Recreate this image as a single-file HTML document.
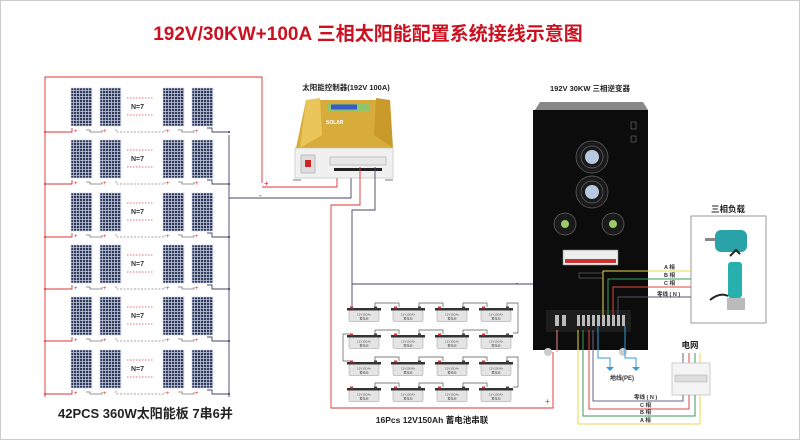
<!DOCTYPE html>
<html><head><meta charset="utf-8"><style>
html,body{margin:0;padding:0;background:#fff}
svg{display:block}
text{font-family:"Liberation Sans","Noto Sans CJK SC",sans-serif}
</style></head><body>
<svg width="800" height="442" viewBox="0 0 800 442" xmlns="http://www.w3.org/2000/svg">
<defs>
<pattern id="cell" width="3" height="3" patternUnits="userSpaceOnUse">
<rect width="3" height="3" fill="#cfd5e6"/><rect width="2.3" height="2.3" fill="#2f3a5c"/>
</pattern>
<g id="panel"><rect width="21" height="38" fill="url(#cell)" stroke="#cfd5e6" stroke-width="0.6"/></g>
<g id="row">
<use href="#panel" x="71"/><use href="#panel" x="100"/><use href="#panel" x="163"/><use href="#panel" x="192"/>
<line x1="127" y1="10" x2="154" y2="10" stroke="#d44" stroke-width="0.8" stroke-dasharray="1.5,1.5"/>
<line x1="127" y1="27" x2="154" y2="27" stroke="#d44" stroke-width="0.8" stroke-dasharray="1.5,1.5"/>
<text x="131" y="21" font-size="7" font-weight="bold" fill="#333">N=7</text>
<text x="74" y="45" font-size="6" fill="#d22">+</text>
<text x="103" y="45" font-size="6" fill="#d22">+</text>
<text x="166" y="45" font-size="6" fill="#d22">+</text>
<text x="195" y="45" font-size="6" fill="#d22">+</text>
<path d="M86 42h4v2h12v-2" stroke="#777" fill="none" stroke-width="0.8"/>
<path d="M115 42h2v2h48v-2" stroke="#888" fill="none" stroke-width="0.8" stroke-dasharray="2,1.5"/>
<path d="M178 42h4v2h12v-2" stroke="#777" fill="none" stroke-width="0.8"/>
<path d="M45 44h27v-4" stroke="#d33" fill="none" stroke-width="0.9"/>
<path d="M207 40h5v4h17" stroke="#446" fill="none" stroke-width="0.9"/>
<circle cx="45" cy="44" r="1" fill="#d33"/><circle cx="229" cy="44" r="1" fill="#335"/>
</g>
<g id="bat">
<rect x="0" y="0" width="34" height="2.5" fill="#333"/>
<rect x="2" y="2.5" width="30" height="11" fill="#e4e4e4" stroke="#999" stroke-width="0.5" rx="1"/>
<rect x="3" y="-1.5" width="3" height="2" fill="#c33"/><rect x="27" y="-1.5" width="3" height="2" fill="#444"/>
<text x="17" y="7.5" font-size="3" text-anchor="middle" fill="#555">12V150Ah</text>
<text x="17" y="11.5" font-size="3" text-anchor="middle" fill="#555">蓄电池</text>
</g>
</defs>
<rect x="0.5" y="0.5" width="799" height="439" fill="#fff" stroke="#ccc"/>
<text x="368" y="40" font-size="19" font-weight="bold" fill="#cc1020" text-anchor="middle">192V/30KW+100A 三相太阳能配置系统接线示意图</text>

<path d="M45 397V77H262V183" stroke="#d33" fill="none" stroke-width="0.9"/>
<path d="M229 135V397" stroke="#446" fill="none" stroke-width="0.9"/>
<use href="#row" y="88"/><use href="#row" y="140"/><use href="#row" y="193"/>
<use href="#row" y="245"/><use href="#row" y="297"/><use href="#row" y="350"/>
<text x="264" y="186" font-size="8" fill="#d22">+</text>
<text x="259" y="198" font-size="8" fill="#446">-</text>
<path d="M262 187H337V167" stroke="#d33" fill="none" stroke-width="0.9"/>
<path d="M229 198H351V167" stroke="#446" fill="none" stroke-width="0.9"/>
<text x="58" y="418" font-size="13" font-weight="bold" fill="#222">42PCS  360W太阳能板 7串6并</text>

<text x="346" y="90" font-size="7.5" font-weight="bold" fill="#222" text-anchor="middle">太阳能控制器(192V 100A)</text>
<path d="M296 148 L306 100 L390 100 L392 148 Z" fill="#d8ac3a"/>
<path d="M306 100 L320 98 L322 135 L300 148Z" fill="#e9c55a"/>
<path d="M390 100 L376 98 L374 135 L393 148Z" fill="#c99a2a"/>
<rect x="328" y="103" width="42" height="8" fill="#8fc46a"/><rect x="331" y="104.5" width="26" height="5" fill="#3a58c8"/>
<text x="326" y="124" font-size="5" font-weight="bold" fill="#fff">SOLAR</text>
<rect x="295" y="148" width="98" height="30" fill="#f0f0f0" stroke="#bbb" stroke-width="0.6"/>
<rect x="301" y="155" width="14" height="18" fill="#ddd" stroke="#999" stroke-width="0.5"/><rect x="305" y="160" width="6" height="7" fill="#c22"/>
<rect x="330" y="157" width="56" height="8" fill="#e8e8e8" stroke="#999" stroke-width="0.5"/>
<rect x="334" y="168" width="48" height="3" fill="#222"/>
<path d="M293 180h8M385 180h8" stroke="#bbb" stroke-width="2"/>

<path d="M360 167V205H331V408H553V352" stroke="#d33" fill="none" stroke-width="0.9"/>
<path d="M375 167V210H352V308" stroke="#446" fill="none" stroke-width="0.9"/>
<path d="M352 284H563V318" stroke="#446" fill="none" stroke-width="0.9"/>
<text x="516" y="285" font-size="6" fill="#446">-</text>
<text x="545" y="404" font-size="8" fill="#d22">+</text>
<g stroke="#555" stroke-width="0.7" fill="none">
<path d="M375 307v-4h24v4M419 307v-4h24v4M463 307v-4h24v4"/>
<path d="M507 307v-4h11v30h-5"/>
<path d="M375 334v-4h24v4M419 334v-4h24v4M463 334v-4h24v4"/>
<path d="M353 334h-10v27h8"/>
<path d="M375 361v-4h24v4M419 361v-4h24v4M463 361v-4h24v4"/>
<path d="M507 361v-4h11v30h-5"/>
<path d="M375 387v-4h24v4M419 387v-4h24v4M463 387v-4h24v4"/>
</g>
<use href="#bat" x="347" y="308"/><use href="#bat" x="391" y="308"/><use href="#bat" x="435" y="308"/><use href="#bat" x="479" y="308"/>
<use href="#bat" x="347" y="335"/><use href="#bat" x="391" y="335"/><use href="#bat" x="435" y="335"/><use href="#bat" x="479" y="335"/>
<use href="#bat" x="347" y="362"/><use href="#bat" x="391" y="362"/><use href="#bat" x="435" y="362"/><use href="#bat" x="479" y="362"/>
<use href="#bat" x="347" y="388"/><use href="#bat" x="391" y="388"/><use href="#bat" x="435" y="388"/><use href="#bat" x="479" y="388"/>
<text x="432" y="423" font-size="8.5" font-weight="bold" fill="#222" text-anchor="middle">16Pcs 12V150Ah 蓄电池串联</text>

<text x="590" y="91" font-size="7.5" font-weight="bold" fill="#222" text-anchor="middle">192V 30KW 三相逆变器</text>
<path d="M535 110 L540 102 L643 102 L648 110Z" fill="#888"/>
<rect x="533" y="110" width="115" height="240" fill="#0c0c0c"/>
<rect x="631" y="122" width="5" height="7" fill="none" stroke="#777" stroke-width="0.6"/>
<rect x="631" y="136" width="5" height="6" fill="none" stroke="#777" stroke-width="0.6"/>
<g stroke="#666" stroke-width="0.7" fill="#1a1a1a">
<circle cx="592" cy="157" r="16"/><circle cx="592" cy="157" r="11"/><circle cx="592" cy="192" r="16"/><circle cx="592" cy="192" r="11"/>
<circle cx="565" cy="224" r="11"/><circle cx="613" cy="224" r="11"/>
</g>
<circle cx="592" cy="157" r="7" fill="#b8c8e0"/><circle cx="592" cy="192" r="7" fill="#b8c8e0"/>
<circle cx="565" cy="224" r="4" fill="#9c6"/><circle cx="613" cy="224" r="4" fill="#9c6"/>
<rect x="563" y="250" width="55" height="15" fill="#eee" stroke="#888" stroke-width="0.6"/>
<rect x="565" y="259" width="51" height="4" fill="#c33"/>
<rect x="579" y="273" width="24" height="5" fill="none" stroke="#888" stroke-width="0.5"/>
<rect x="546" y="310" width="85" height="22" fill="#1d1d1d"/>
<g fill="#bbb"><rect x="555" y="315" width="4" height="11"/><rect x="562" y="315" width="4" height="11"/>
<rect x="577" y="315" width="3" height="11"/><rect x="582" y="315" width="3" height="11"/><rect x="587" y="315" width="3" height="11"/><rect x="592" y="315" width="3" height="11"/><rect x="597" y="315" width="3" height="11"/><rect x="602" y="315" width="3" height="11"/><rect x="607" y="315" width="3" height="11"/><rect x="612" y="315" width="3" height="11"/><rect x="617" y="315" width="3" height="11"/><rect x="622" y="315" width="3" height="11"/></g>
<circle cx="548" cy="352" r="4" fill="#ccc"/><circle cx="623" cy="352" r="4" fill="#ccc"/>

<text x="728" y="212" font-size="8.5" font-weight="bold" fill="#222" text-anchor="middle">三相负载</text>
<rect x="691" y="216" width="75" height="107" fill="#fff" stroke="#999" stroke-width="1"/>
<rect x="715" y="230" width="32" height="22" rx="6" fill="#2aa3a8"/><rect x="705" y="238" width="10" height="3" fill="#888"/>
<rect x="728" y="262" width="14" height="36" rx="3" fill="#27b0ad"/>
<path d="M730 256 l6 -6 l4 4 M710 300 q10 -8 18 -4" stroke="#222" stroke-width="2" fill="none"/>
<rect x="727" y="298" width="18" height="12" fill="#bbb"/>
<path d="M603 315V271H691" stroke="#e8d84a" fill="none" stroke-width="1"/>
<path d="M608 315V279H691" stroke="#3a9a5a" fill="none" stroke-width="1"/>
<path d="M613 315V287H691" stroke="#d44" fill="none" stroke-width="1"/>
<path d="M618 315V297H691" stroke="#556" fill="none" stroke-width="1"/>
<text x="664" y="269" font-size="5.5" font-weight="bold" fill="#333">A 相</text>
<text x="664" y="277" font-size="5.5" font-weight="bold" fill="#333">B 相</text>
<text x="664" y="285" font-size="5.5" font-weight="bold" fill="#333">C 相</text>
<text x="657" y="296" font-size="5.5" font-weight="bold" fill="#333">零线 ( N )</text>

<path d="M598 326V358H610V368M625 326V358H636V368" stroke="#3a9ad8" fill="none" stroke-width="1"/>
<path d="M606 367h8l-4 4zM632 367h8l-4 4z" fill="#3a9ad8"/>
<text x="622" y="380" font-size="6" font-weight="bold" fill="#333" text-anchor="middle">地线(PE)</text>

<text x="690" y="348" font-size="8.5" font-weight="bold" fill="#222" text-anchor="middle">电网</text>
<path d="M683 353v10" stroke="#668"/><path d="M689 353v10" stroke="#d44"/><path d="M695 353v10" stroke="#3a9a5a"/><path d="M700 353v10" stroke="#e8d84a"/>
<rect x="672" y="363" width="38" height="32" fill="#f4f4f4" stroke="#bbb" stroke-width="0.7"/>
<rect x="675" y="375" width="32" height="7" fill="#ddd" stroke="#999" stroke-width="0.4"/>
<path d="M593 330V401H683V395" stroke="#668" fill="none" stroke-width="1"/>
<path d="M589 330V409H689V395" stroke="#d44" fill="none" stroke-width="1"/>
<path d="M583 330V416H695V395" stroke="#3a9a5a" fill="none" stroke-width="1"/>
<path d="M578 330V424H700V395" stroke="#e8d84a" fill="none" stroke-width="1"/>
<path d="M557 330V352" stroke="#e88" stroke-width="1"/>
<text x="634" y="399" font-size="5.5" font-weight="bold" fill="#333">零线 ( N )</text>
<text x="640" y="407" font-size="5.5" font-weight="bold" fill="#333">C 相</text>
<text x="640" y="414" font-size="5.5" font-weight="bold" fill="#333">B 相</text>
<text x="640" y="422" font-size="5.5" font-weight="bold" fill="#333">A 相</text>
</svg>
</body></html>
